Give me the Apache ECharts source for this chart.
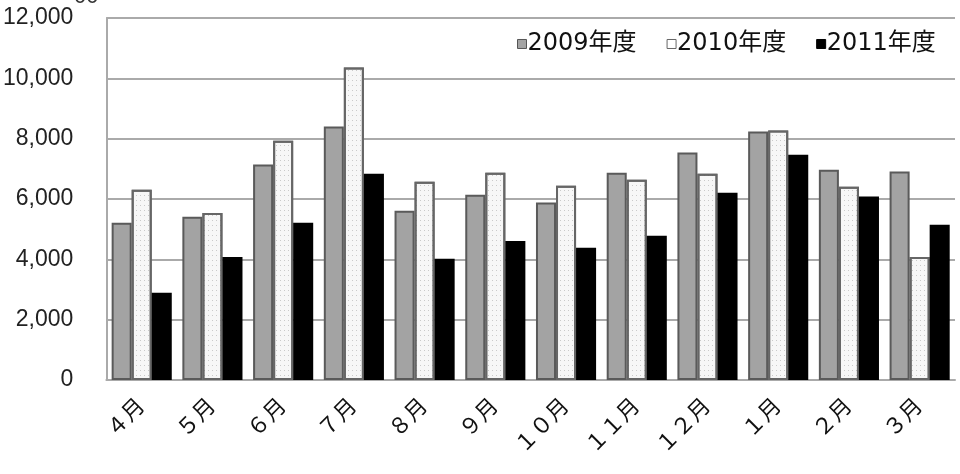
<!DOCTYPE html>
<html>
<head>
<meta charset="utf-8">
<script src="https://cdn.jsdelivr.net/npm/echarts@6/dist/echarts.min.js"></script>
<style>
  html, body { margin: 0; padding: 0; background: #fff; }
  #chart { width: 960px; height: 474px; }
</style>
</head>
<body>
<div id="chart"></div>
<script>
// 月別の件数
const months = ['４月', '５月', '６月', '７月', '８月', '９月', '１０月', '１１月', '１２月', '１月', '２月', '３月'];
const fy2009 = [5210, 5410, 7140, 8400, 5610, 6140, 5880, 6870, 7540, 8240, 6970, 6910];
const fy2010 = [6310, 5540, 7930, 10360, 6570, 6870, 6440, 6640, 6840, 8270, 6410, 4080];
const fy2011 = [2890, 4080, 5210, 6840, 4020, 4610, 4380, 4780, 6210, 7470, 6080, 5150];
const seriesNames = ['2009年度', '2010年度', '2011年度'];

const font = '"Liberation Sans", "Noto Sans CJK JP", sans-serif';

const chart = echarts.init(document.getElementById('chart'));

function barSeries(name, data, fill, border, decal) {
  return {
    name,
    type: 'bar',
    data,
    barGap: '0%',
    barCategoryGap: '15%',
    itemStyle: {
      color: fill,
      borderColor: border,
      borderWidth: 2,
      decal: decal
    }
  };
}

// 2010年度の点描
const dots = {
  symbol: 'rect',
  symbolSize: 1,
  color: 'rgba(0,0,0,0.18)',
  dashArrayX: [1, 3],
  dashArrayY: [1, 4],
  rotation: 0
};

chart.setOption({
  animation: false,
  textStyle: { fontFamily: font },
  grid: { left: 105, right: 5, top: 18, bottom: 94 },
  graphic: [{
    type: 'text', left: 74, top: -14,
    style: { text: '00', fontSize: 22, fill: '#333', fontFamily: font }
  }],
  legend: {
    left: 512,
    top: 27,
    icon: 'rect',
    itemWidth: 9,
    itemHeight: 9,
    itemGap: 30,
    textStyle: {
      fontSize: 24,
      color: '#111',
      fontFamily: '"DejaVu Sans", "Noto Sans CJK JP", sans-serif',
      padding: [0, 0, 0, -4]
    },
    data: [
      { name: seriesNames[0], itemStyle: { color: '#a3a3a3', borderColor: '#555', borderWidth: 1 } },
      { name: seriesNames[1], itemStyle: { color: '#fff', borderColor: '#666', borderWidth: 1, decal: 'none' } },
      { name: seriesNames[2], itemStyle: { color: '#000', borderColor: '#000', borderWidth: 1 } }
    ]
  },
  xAxis: {
    type: 'category',
    data: months,
    axisLine: { lineStyle: { color: '#aaa', width: 2 } },
    axisTick: { show: false },
    axisLabel: { rotate: 45, fontSize: 22, color: '#111', margin: 23 }
  },
  yAxis: {
    type: 'value',
    min: 0,
    max: 12000,
    interval: 2000,
    axisLine: { show: true, lineStyle: { color: '#aaa', width: 2 } },
    axisTick: { show: false },
    axisLabel: {
      fontSize: 23,
      color: '#222',
      margin: 33,
      formatter: v => v.toLocaleString('en-US')
    },
    splitLine: { lineStyle: { color: '#aaa', width: 2 } }
  },
  series: [
    barSeries(seriesNames[0], fy2009, '#a3a3a3', '#5a5a5a'),
    barSeries(seriesNames[1], fy2010, '#f7f7f7', '#666', dots),
    barSeries(seriesNames[2], fy2011, '#000', '#000')
  ]
});
</script>
</body>
</html>
